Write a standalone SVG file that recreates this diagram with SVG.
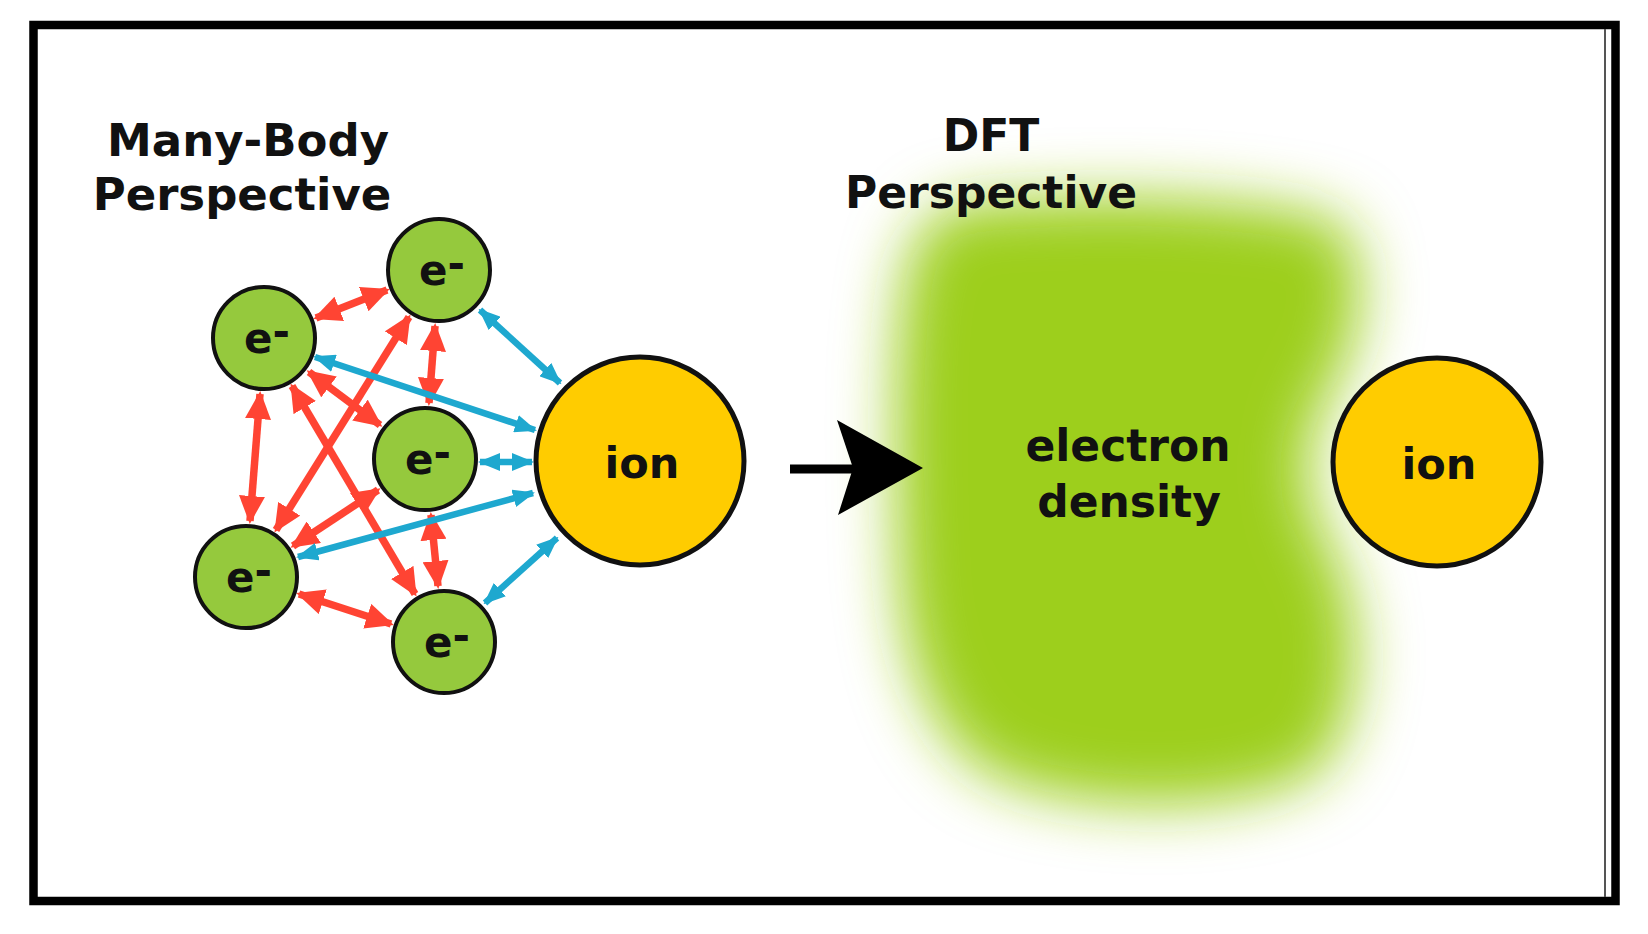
<svg xmlns="http://www.w3.org/2000/svg" width="1648" height="934" viewBox="0 0 1648 934">
  <style>
    .title { font-family: "DejaVu Sans", Verdana, sans-serif; font-weight: bold; font-size: 45px; fill: #111; text-anchor: middle; }
    .title2 { font-family: "DejaVu Sans", Verdana, sans-serif; font-weight: bold; font-size: 44px; fill: #111; text-anchor: middle; }
    .elab { font-family: "DejaVu Sans", Verdana, sans-serif; font-weight: bold; font-size: 42px; fill: #111; }
    .ionlab { font-family: "DejaVu Sans", Verdana, sans-serif; font-weight: bold; font-size: 43px; fill: #111; text-anchor: middle; }
    .dens { font-family: "DejaVu Sans", Verdana, sans-serif; font-weight: bold; font-size: 44px; fill: #111; text-anchor: middle; }
    .electron { fill: #95c93d; stroke: #111; stroke-width: 4; }
    .ion { fill: #ffcc00; stroke: #111; stroke-width: 5; }
    .red { stroke: #ff4433; stroke-width: 7.5; fill: none; marker-start: url(#redHead); marker-end: url(#redHead); }
    .blue { stroke: #1ea8cf; stroke-width: 6.5; fill: none; marker-start: url(#blueHead); marker-end: url(#blueHead); }
  </style>
  <defs>
    <marker id="redHead" viewBox="0 0 28 26" refX="25" refY="13" markerWidth="28" markerHeight="26" markerUnits="userSpaceOnUse" orient="auto-start-reverse">
      <path d="M0,0 L28,13 L0,26 z" fill="#ff4433"/>
    </marker>
    <marker id="blueHead" viewBox="0 0 22 18" refX="20" refY="9" markerWidth="22" markerHeight="18" markerUnits="userSpaceOnUse" orient="auto-start-reverse">
      <path d="M0,0 L22,9 L0,18 z" fill="#1ea8cf"/>
    </marker>
    <filter id="blur" x="-30%" y="-30%" width="160%" height="160%">
      <feGaussianBlur stdDeviation="30"/>
    </filter>
  </defs>

  <rect x="0" y="0" width="1648" height="934" fill="#ffffff"/>

  <!-- electron density blob -->
  <g id="electron-density">
    <path d="M960,205 C1100,192 1250,198 1330,218 C1372,240 1366,330 1336,382 C1302,432 1296,492 1330,546 C1366,612 1366,722 1316,772 C1246,814 1080,814 995,776 C925,738 902,650 899,560 C895,460 893,330 908,266 C918,230 935,210 960,205 Z" fill="#9dcf1f" filter="url(#blur)"/>
    <text class="dens" x="1128" y="461">electron</text>
    <text class="dens" x="1129" y="517">density</text>
  </g>

  <!-- titles -->
  <g id="title-many-body">
    <text class="title" x="248" y="156">Many-Body</text>
    <text class="title" x="242" y="210">Perspective</text>
  </g>
  <g id="title-dft">
    <text class="title2" x="991" y="151">DFT</text>
    <text class="title2" x="991" y="208">Perspective</text>
  </g>

  <!-- connectors -->
  <g id="connectors">
    <line class="red" x1="387" y1="290" x2="316" y2="318"/>
    <line class="red" x1="435" y1="326" x2="429" y2="403"/>
    <line class="red" x1="409" y1="317" x2="276" y2="530"/>
    <line class="red" x1="309" y1="372" x2="380" y2="425"/>
    <line class="red" x1="260" y1="394" x2="250" y2="521"/>
    <line class="red" x1="292" y1="386" x2="415" y2="594"/>
    <line class="red" x1="378" y1="490" x2="293" y2="546"/>
    <line class="red" x1="431" y1="515" x2="438" y2="586"/>
    <line class="red" x1="299" y1="594" x2="391" y2="624"/>

    <line class="blue" x1="480" y1="310" x2="560" y2="383"/>
    <line class="blue" x1="315" y1="357" x2="535" y2="430"/>
    <line class="blue" x1="480" y1="462" x2="532" y2="462"/>
    <line class="blue" x1="298" y1="557" x2="533" y2="493"/>
    <line class="blue" x1="485" y1="603" x2="557" y2="538"/>

    <g id="transform-arrow">
      <line x1="790" y1="469" x2="856" y2="469" stroke="#000" stroke-width="9"/>
      <polygon points="837,420 923,468 838,515 853,468" fill="#000"/>
    </g>
  </g>

  <!-- electrons -->
  <g id="e1"><circle class="electron" cx="439" cy="270" r="51"/><text class="elab" x="419" y="285">e<tspan dy="-7">-</tspan></text></g>
  <g id="e2"><circle class="electron" cx="264" cy="338" r="51"/><text class="elab" x="244" y="353">e<tspan dy="-7">-</tspan></text></g>
  <g id="e3"><circle class="electron" cx="425" cy="459" r="51"/><text class="elab" x="405" y="474">e<tspan dy="-7">-</tspan></text></g>
  <g id="e4"><circle class="electron" cx="246" cy="577" r="51"/><text class="elab" x="226" y="592">e<tspan dy="-7">-</tspan></text></g>
  <g id="e5"><circle class="electron" cx="444" cy="642" r="51"/><text class="elab" x="424" y="657">e<tspan dy="-7">-</tspan></text></g>

  <!-- ions -->
  <g id="ion-left"><circle class="ion" cx="640" cy="461" r="104"/><text class="ionlab" x="642" y="478">ion</text></g>
  <g id="ion-right"><circle class="ion" cx="1437" cy="462" r="104"/><text class="ionlab" x="1439" y="479">ion</text></g>

  <!-- frame -->
  <g id="frame">
    <rect x="33.5" y="25" width="1582" height="876" fill="none" stroke="#000" stroke-width="8.5"/>
    <line x1="1605" y1="29" x2="1605" y2="897" stroke="#555" stroke-width="2"/>
  </g>
</svg>
